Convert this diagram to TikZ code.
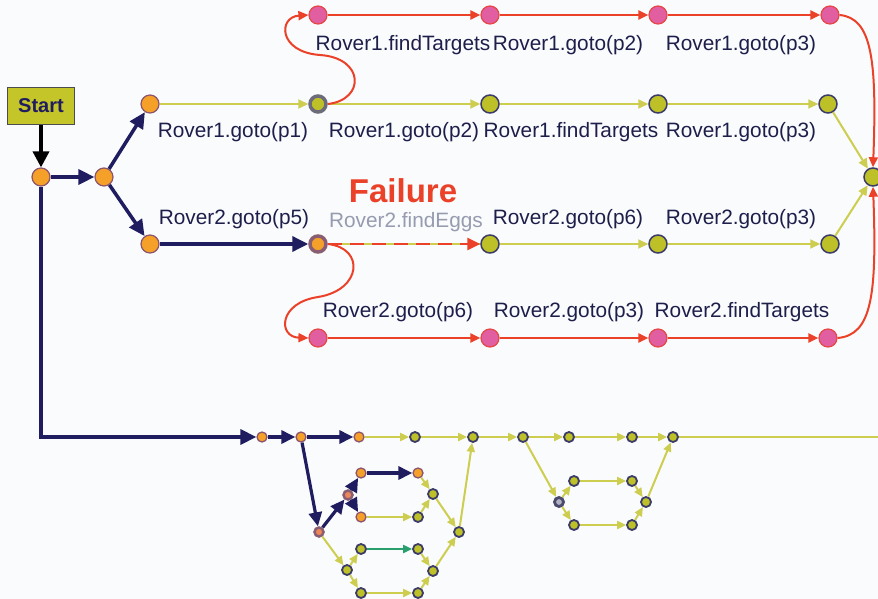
\documentclass[tikz,border=0pt]{standalone}
\usepackage{fontspec}
\setmainfont{Liberation Sans}
\usetikzlibrary{arrows.meta}

\definecolor{navyc}{RGB}{32,28,96}
\definecolor{orangec}{RGB}{245,160,40}
\definecolor{orangering}{RGB}{140,85,110}
\definecolor{olivec}{RGB}{190,192,40}
\definecolor{olivering}{RGB}{60,60,105}
\definecolor{pinkc}{RGB}{225,95,160}
\definecolor{pinkring}{RGB}{230,70,70}
\definecolor{redc}{RGB}{235,65,40}
\definecolor{yellowc}{RGB}{205,205,80}
\definecolor{textc}{RGB}{30,30,75}
\definecolor{greytext}{RGB}{150,155,175}
\definecolor{startfill}{RGB}{195,197,40}
\definecolor{greenc}{RGB}{40,160,110}
\definecolor{bgc}{RGB}{250,251,253}

\tikzset{
  lbl/.style={text=textc, font=\fontsize{20.8}{24}\selectfont, inner sep=0pt},
  orn/.style={circle, inner sep=0pt, minimum size=18pt, fill=orangec, draw=orangering, line width=1.2pt},
  olv/.style={circle, inner sep=0pt, minimum size=18pt, fill=olivec, draw=olivering, line width=1.5pt},
  pnk/.style={circle, inner sep=0pt, minimum size=18pt, fill=pinkc, draw=pinkring, line width=1.2pt},
  dblolv/.style={circle, inner sep=0pt, minimum size=16pt, fill=olivec, draw=gray!70!olivering, line width=3.5pt},
  dblorn/.style={circle, inner sep=0pt, minimum size=16pt, fill=orangec, draw=orangering!80!gray, line width=3.5pt},
  sorn/.style={circle, inner sep=0pt, minimum size=10pt, fill=orangec, draw=orangering, line width=1.3pt},
  solv/.style={circle, inner sep=0pt, minimum size=10pt, fill=olivec, draw=olivering, line width=1.8pt},
  sdbl/.style={circle, inner sep=0pt, minimum size=9pt, fill=orangec!60!pinkc, draw=orangering!80!gray, line width=2.5pt},
  sdblo/.style={circle, inner sep=0pt, minimum size=9pt, fill=olivering!40!white, draw=olivering!80!gray, line width=2.8pt},
  nav/.style={draw=navyc, line width=3.5pt, -{Triangle[length=16pt,width=15pt]}},
  snav/.style={draw=navyc, line width=3.2pt, -{Triangle[length=14pt,width=13pt]}},
  yel/.style={draw=yellowc, line width=2pt, -{Triangle[length=10pt,width=9pt]}},
  syel/.style={draw=yellowc, line width=2pt, -{Triangle[length=9pt,width=8pt]}},
  red/.style={draw=redc, line width=2pt, -{Triangle[length=10pt,width=9pt]}},
}

\begin{document}
\begin{tikzpicture}[x=1pt,y=-1pt]
  \fill[bgc] (0,0) rectangle (878,599);
  \useasboundingbox (0,0) rectangle (878,599);

  % start box and the first split
  \node[draw=black!70, line width=1.5pt, fill=startfill, minimum width=67pt, minimum height=37pt,
        text=navyc, font=\bfseries\fontsize{20}{24}\selectfont] (start) at (41,106) {Start};
  \node[orn] (A) at (41,177) {};
  \node[orn] (B) at (104,177) {};
  \node[orn] (C) at (150,104) {};
  \node[orn] (D) at (150,244) {};

  % row of Rover1 alternative (red)
  \node[pnk] (P1) at (318,15) {};
  \node[pnk] (P2) at (490,15) {};
  \node[pnk] (P3) at (658,15) {};
  \node[pnk] (P4) at (830,15) {};

  % row of Rover1 plan
  \node[dblolv] (E) at (318,104) {};
  \node[olv] (F) at (490,104) {};
  \node[olv] (G) at (658,104) {};
  \node[olv] (H) at (828,104) {};

  % row of Rover2 plan
  \node[dblorn] (K) at (318,244) {};
  \node[olv] (L) at (490,244) {};
  \node[olv] (M) at (658,244) {};
  \node[olv] (N) at (830,244) {};

  % row of Rover2 alternative (red)
  \node[pnk] (Q1) at (318,338) {};
  \node[pnk] (Q2) at (490,338) {};
  \node[pnk] (Q3) at (658,338) {};
  \node[pnk] (Q4) at (828,338) {};

  % join node
  \node[olv] (J) at (873,177) {};

  % labels
  \node[lbl] at (403,45) {Rover1.findTargets};
  \node[lbl] at (568,45) {Rover1.goto(p2)};
  \node[lbl] at (741,45) {Rover1.goto(p3)};

  \node[lbl] at (233,132) {Rover1.goto(p1)};
  \node[lbl] at (404,132) {Rover1.goto(p2)};
  \node[lbl] at (571,132) {Rover1.findTargets};
  \node[lbl] at (741,132) {Rover1.goto(p3)};

  \node[lbl] at (234,219) {Rover2.goto(p5)};
  \node[lbl, text=greytext] at (406,222) {Rover2.findEggs};
  \node[lbl] at (568,219) {Rover2.goto(p6)};
  \node[lbl] at (741,219) {Rover2.goto(p3)};
  \node[text=redc, font=\bfseries\fontsize{33}{38}\selectfont, inner sep=0pt] at (403,191) {Failure};

  \node[lbl] at (398,312) {Rover2.goto(p6)};
  \node[lbl] at (569,312) {Rover2.goto(p3)};
  \node[lbl] at (742,312) {Rover2.findTargets};

  % connectors of the upper part
  \draw[draw=black, line width=3.5pt, -{Triangle[length=16pt,width=16pt]}] (start) -- (A);
  \draw[nav] (A) -- (B);
  \draw[nav] (B) -- (C);
  \draw[nav] (B) -- (D);

  \draw[yel] (C) -- (E);
  \draw[yel] (E) -- (F);
  \draw[yel] (F) -- (G);
  \draw[yel] (G) -- (H);
  \draw[yel] (H) -- (J);

  \draw[nav] (D) -- (K);
  \draw[draw=yellowc, line width=1.5pt] (K) -- (L);
  \draw[draw=redc, line width=2.8pt, dash pattern=on 14pt off 8pt, -{Triangle[length=13pt,width=12pt]}] (K) -- (L);
  \draw[yel] (L) -- (M);
  \draw[yel] (M) -- (N);
  \draw[yel] (N) -- (J);

  \draw[red] (P1) -- (P2);
  \draw[red] (P2) -- (P3);
  \draw[red] (P3) -- (P4);
  \draw[red] (Q1) -- (Q2);
  \draw[red] (Q2) -- (Q3);
  \draw[red] (Q3) -- (Q4);

  \draw[red] (E.east) .. controls (365,100) and (365,58) .. (320,55)
                      .. controls (278,52) and (278,17) .. (P1.west);
  \draw[red] (K.east) .. controls (365,248) and (362,290) .. (318,297)
                      .. controls (278,303) and (278,337) .. (Q1.west);
  \draw[red] (P4.east) .. controls (872,18) and (877,60) .. (J.north);
  \draw[red] (Q4.east) .. controls (872,335) and (877,295) .. (J.south);

  % lower plan: main line
  \node[sorn] (b1) at (262,437) {};
  \node[sorn] (b2) at (301,437) {};
  \node[sorn] (b3) at (359,437) {};
  \node[solv] (b4) at (415,437) {};
  \node[solv] (b5) at (473,437) {};
  \node[solv] (b6) at (523,437) {};
  \node[solv] (b7) at (569,437) {};
  \node[solv] (b8) at (632,437) {};
  \node[solv] (b9) at (673,437) {};
  \coordinate (rend) at (878,437);

  % lower plan: first branch
  \node[sdbl] (s1) at (319,532) {};
  \node[sdbl] (s2) at (348,495) {};
  \node[sorn] (s3) at (361,473) {};
  \node[sorn] (s4) at (361,517) {};
  \node[sorn] (s5) at (418,473) {};
  \node[solv] (s6) at (418,517) {};
  \node[solv] (s7) at (433,494) {};
  \node[solv] (s8) at (459,532) {};
  \node[solv] (s9) at (347,570) {};
  \node[solv] (s10) at (361,549) {};
  \node[solv] (s11) at (361,593) {};
  \node[solv] (s12) at (418,549) {};
  \node[solv] (s13) at (418,593) {};
  \node[solv] (s14) at (433,571) {};

  % lower plan: second branch
  \node[sdblo] (r1) at (559,502) {};
  \node[solv] (r2) at (574,481) {};
  \node[solv] (r3) at (574,525) {};
  \node[solv] (r4) at (632,481) {};
  \node[solv] (r5) at (632,525) {};
  \node[solv] (r6) at (646,502) {};

  \draw[nav] (A) |- (b1);
  \draw[snav] (b1) -- (b2);
  \draw[snav] (b2) -- (b3);
  \draw[syel] (b3) -- (b4);
  \draw[syel] (b4) -- (b5);
  \draw[syel] (b5) -- (b6);
  \draw[syel] (b6) -- (b7);
  \draw[syel] (b7) -- (b8);
  \draw[syel] (b8) -- (b9);
  \draw[draw=yellowc, line width=2pt] (b9) -- (rend);

  \draw[snav] (b2) -- (s1);
  \draw[snav] (s1) -- (s2);
  \draw[snav] (s2) -- (s3);
  \draw[snav] (s2) -- (s4);
  \draw[snav] (s3) -- (s5);
  \draw[syel] (s4) -- (s6);
  \draw[syel] (s5) -- (s7);
  \draw[syel] (s6) -- (s7);
  \draw[syel] (s7) -- (s8);
  \draw[syel] (s8) -- (b5);
  \draw[syel] (s1) -- (s9);
  \draw[syel] (s9) -- (s10);
  \draw[syel] (s9) -- (s11);
  \draw[draw=greenc, line width=2pt, -{Triangle[length=9pt,width=8pt]}] (s10) -- (s12);
  \draw[syel] (s11) -- (s13);
  \draw[syel] (s12) -- (s14);
  \draw[syel] (s13) -- (s14);
  \draw[syel] (s14) -- (s8);

  \draw[syel] (b6) -- (r1);
  \draw[syel] (r1) -- (r2);
  \draw[syel] (r1) -- (r3);
  \draw[syel] (r2) -- (r4);
  \draw[syel] (r3) -- (r5);
  \draw[syel] (r4) -- (r6);
  \draw[syel] (r5) -- (r6);
  \draw[syel] (r6) -- (b9);
\end{tikzpicture}
\end{document}
